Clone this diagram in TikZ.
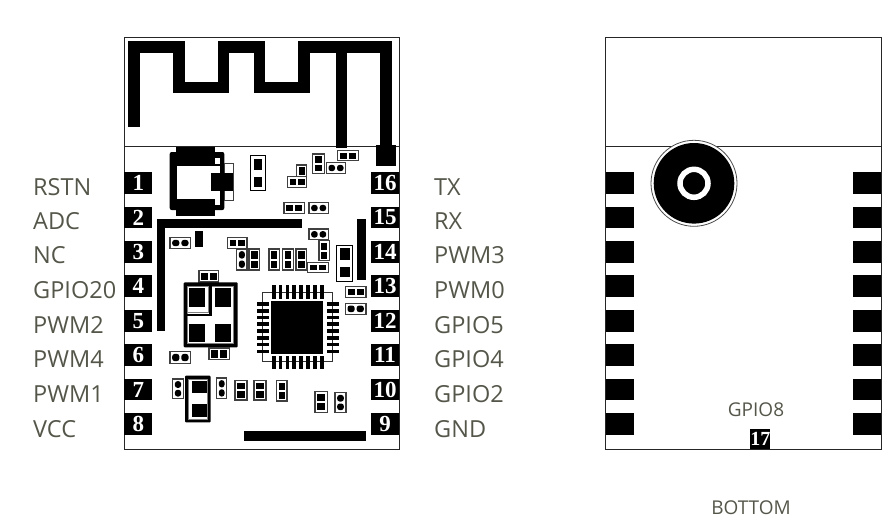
\documentclass[tikz,border=0pt]{standalone}
\usepackage{fontspec}
\setmainfont{Open Sans}
\newfontfamily\pinfont{Liberation Serif}
\definecolor{labelgray}{HTML}{55564A}
\tikzset{
	board/.style={draw=black!85, line width=1pt},
	trace/.style={black, line width=11.5pt, line cap=butt, line join=miter},
	partframe/.style={draw=black!75, fill=white, line width=1.4pt},
	pinbox/.style={fill=black, text=white, inner sep=0pt, minimum width=28pt, minimum height=21.5pt, font=\pinfont\bfseries\fontsize{23}{23}\selectfont},
	pinlabel/.style={text=labelgray, inner sep=0pt, anchor=base west, font=\fontsize{23.5}{24}\selectfont},
	smalllabel/.style={text=labelgray, inner sep=0pt, font=\fontsize{19}{20}\selectfont}
}
% parts with two pads: x1 x2 y1 y2
\newcommand{\partv}[5][]{
	\draw[partframe] (#2,#4) rectangle (#3,#5);
	\fill[black,#1] ({#2+2.2},{#4+2.2}) rectangle ({#3-2.2},{(#4+#5)/2-1});
	\fill[black,#1] ({#2+2.2},{(#4+#5)/2+1}) rectangle ({#3-2.2},{#5-2.2});
}
\newcommand{\parth}[5][]{
	\draw[partframe] (#2,#4) rectangle (#3,#5);
	\fill[black,#1] ({#2+2.2},{#4+2.2}) rectangle ({(#2+#3)/2-1},{#5-2.2});
	\fill[black,#1] ({(#2+#3)/2+1},{#4+2.2}) rectangle ({#3-2.2},{#5-2.2});
}
\begin{document}
\begin{tikzpicture}[x=1pt,y=-1pt]
	\useasboundingbox (0,0) rectangle (890,530);

	%Boards
	\draw[board] (124,37) rectangle (399,449);
	\draw[board] (124,146.5) -- (399,146.5);
	\draw[board] (605.5,37) rectangle (881,449);
	\draw[board] (605.5,146.5) -- (881,146.5);

	%Antenna
	\draw[trace] (134,127) -- (134,46.8) -- (179,46.8) -- (179,87.7) -- (223.7,87.7) -- (223.7,46.8) -- (259.3,46.8) -- (259.3,87.7) -- (304,87.7) -- (304,46.8) -- (386,46.8) -- (386,147);
	\draw[trace] (341.7,46.8) -- (341.7,148);
	\fill[black] (376.3,145) rectangle (396.3,166);

	%Pins
	\foreach \n/\y/\base/\lab in {1/183/195/RSTN, 2/217.5/229/ADC, 3/252/263.5/NC, 4/286/298/GPIO20, 5/321/333/PWM2, 6/355/367.5/PWM4, 7/389.5/402/PWM1, 8/424/437/VCC}{
		\node[pinbox] (pin\n) at (138.3,\y) {\n};
		\node[pinlabel] (lab\n) at (33,\base) {\lab};
	}
	\foreach \n/\y/\base/\lab in {16/183/195/TX, 15/217.5/229/RX, 14/252/263.5/PWM3, 13/286/298/PWM0, 12/321/333/GPIO5, 11/355/367.5/GPIO4, 10/389.5/402/GPIO2, 9/424/437/GND}{
		\node[pinbox] (pin\n) at (385,\y) {\n};
		\node[pinlabel] (lab\n) at (434,\base) {\lab};
	}

	%Switch
	\fill[black, rounded corners=2pt] (169.7,152) rectangle (224.3,210);
	\fill[black] (176,146.7) rectangle (215,216);
	\draw[black!75, line width=1pt] (224.3,163.7) rectangle (233.3,200);
	\fill[white] (176.7,166) rectangle (220,198.7);
	\fill[white] (215,157.7) rectangle (220,163.7);
	\fill[white] (215,199.3) rectangle (220,205.3);
	\fill[black] (211,172.7) rectangle (233.3,191.3);

	%Top parts
	\draw[partframe, draw=black] (250.3,155.3) rectangle (265.7,190.7);
	\fill[black] (254,158.7) rectangle (262.3,170);
	\fill[black] (254,176.7) rectangle (262.3,187.3);
	\partv{296.7}{306.7}{165}{187.3}
	\parth{287.7}{306.7}{176.7}{187.3}
	\partv{312.7}{324.3}{154}{173.3}
	\parth[rounded corners=2.5pt]{326.3}{345.7}{162.7}{173.3}
	\parth{337.7}{358.3}{150.3}{160.7}
	\parth{284}{304.3}{202.7}{213.3}
	\parth[rounded corners=2.5pt]{309}{328.3}{202.7}{213.3}

	%Middle parts
	\fill[black] (156.7,219.3) rectangle (301.7,227.7);
	\fill[black] (156.7,219.3) rectangle (165,331);
	\fill[black] (194.7,231.3) rectangle (203.3,247.3);
	\fill[black] (357.3,218.7) rectangle (366.3,280);
	\parth[rounded corners=2.5pt]{170}{190.7}{237.7}{248.3}
	\parth{227.7}{247}{237.7}{248.3}
	\partv[rounded corners=2.5pt]{236.7}{247}{249}{270}
	\partv{249}{259.7}{249}{270}
	\partv{269}{279.3}{249}{270}
	\partv{282.7}{293.3}{249}{270}
	\partv{296}{306.7}{249}{270}
	\parth[rounded corners=2.5pt]{309}{328.3}{229}{239.7}
	\partv{319}{329.3}{240.7}{260.7}
	\parth{307.7}{328.3}{262.3}{272.3}
	\draw[partframe, draw=black] (336.3,245.3) rectangle (352.3,281.3);
	\fill[black] (340.3,248.3) rectangle (350.3,260);
	\fill[black] (340.3,266.7) rectangle (350.3,277.3);
	\parth{345.3}{366}{286.7}{297.3}
	\parth[rounded corners=2.5pt]{345.3}{366}{303.3}{314.3}
	\parth{199}{218.7}{270.3}{282}

	%Crystal
	\fill[black, rounded corners=1pt] (183.7,282.3) rectangle (237.7,347.3);
	\draw[black!50, fill=white, line width=0.8pt] (187.2,286.2) rectangle (233.8,343.8);
	\draw[black, line width=2.4pt] (210.6,285.7) -- (210.6,315) -- (186.7,315);
	\draw[black!50, line width=0.8pt] (187.2,312.5) -- (208,312.5) -- (208,286.2);
	\foreach \x in {189.3,214.8}{
		\fill[black] (\x,287.7) rectangle (\x+16,306.7);
		\fill[black] (\x,323.7) rectangle (\x+16,342.3);
	}

	%Chip
	\draw[black!80, line width=1pt] (262.7,292.7) rectangle (332,361.3);
	\fill[white] (264,293.5) rectangle (331,360.5);
	\foreach \i in {0,...,7}{
		\fill[black] ({271.9+6.86*\i},285.3) rectangle ({275.6+6.86*\i},298.7);
		\fill[black] ({271.9+6.86*\i},356.3) rectangle ({275.6+6.86*\i},368.7);
		\fill[black] (256.7,{302.2+6.76*\i}) rectangle (268.7,{305.9+6.76*\i});
		\fill[black] (326.7,{302.2+6.76*\i}) rectangle (339.3,{305.9+6.76*\i});
	}
	\fill[black] (271.3,301.3) rectangle (323.3,354);

	%Bottom parts
	\parth[rounded corners=2.5pt]{170}{190.7}{351.7}{363.3}
	\parth{209}{229.3}{348}{359.7}
	\partv[rounded corners=2.5pt]{172.7}{183.3}{379}{398.7}
	\fill[black, rounded corners=1pt] (185,375.7) rectangle (210.7,422.3);
	\draw[black!50, fill=white, line width=0.8pt] (188.3,379.3) rectangle (207.7,419);
	\fill[black] (191.7,381) rectangle (206.7,392.7);
	\fill[black] (191.7,404) rectangle (206.7,416.7);
	\partv[rounded corners=2.5pt]{216.7}{226.7}{378}{398.7}
	\partv{235}{247}{380.7}{400}
	\partv{254}{266}{380.7}{400}
	\partv{276.3}{287}{380.7}{401}
	\partv{315}{327.3}{391.7}{412.3}
	\partv[rounded corners=2.5pt]{335}{346}{392.7}{412.3}
	\fill[black] (243.7,430.7) rectangle (366,441.3);

	%Back side
	\foreach \y in {183,217.5,252,286,321,355,389.5,424}{
		\fill[black] (606,\y-10.7) rectangle (634,\y+10.7);
		\fill[black] (853,\y-10.7) rectangle (881,\y+10.7);
	}
	\draw[black!70, line width=0.8pt, fill=white] (694,183.3) circle (43);
	\fill[black] (694,183.3) circle (40.3);
	\draw[white, line width=5.5pt] (694,183.3) circle (14);
	\node[pinbox, minimum width=17.5pt, minimum height=20pt, font=\pinfont\bfseries\fontsize{20}{20}\selectfont] (pin17) at (760.3,439) {17};
	\node[smalllabel] (labgpio) at (756,409.5) {GPIO8};
	\node[smalllabel] (labbottom) at (751,507.5) {BOTTOM};
\end{tikzpicture}
\end{document}
